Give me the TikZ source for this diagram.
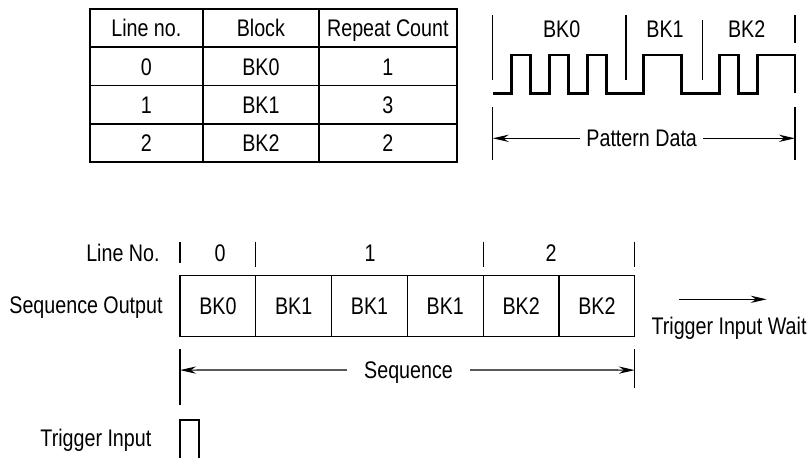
\documentclass[tikz,border=0pt]{standalone}
\usepackage{fontspec}
\setmainfont{Liberation Sans}[FakeStretch=0.82]
\usetikzlibrary{positioning,arrows.meta}

\begin{document}
\begin{tikzpicture}[x=0.5pt, y=-0.5pt,
  every node/.style={font=\fontsize{12}{14}\selectfont, inner sep=0pt},
  cell/.style={draw, line width=0.8pt, outer sep=0pt, minimum height=19.1pt, text height=8.6pt, text depth=0pt},
  blk/.style={draw, line width=0.6pt, outer sep=0pt, minimum width=37.9pt, minimum height=30.2pt, text height=8.6pt, text depth=0pt},
  lab/.style={text height=8.6pt, text depth=0pt},
  dimlab/.style={lab, inner xsep=3pt},
  tick/.style={line width=0.6pt},
  dim/.style={line width=0.6pt, -{Stealth[length=8pt, width=3.6pt]}},
  wave/.style={line width=1.4pt}]
\useasboundingbox (0,0) rectangle (810,457);
% table of lines
\foreach \ca/\cb/\cc [count=\i] in {{Line no.}/Block/{Repeat Count}, 0/BK0/1, 1/BK1/3, 2/BK2/2} {
  \node[cell, minimum width=56.35pt] (r\i a) at (146.35, {9+38.25*\i-19.1}) {\ca};
  \node[cell, minimum width=58.15pt] (r\i b) at (260.85, {9+38.25*\i-19.1}) {\cb};
  \node[cell, minimum width=68.85pt] (r\i c) at (387.85, {9+38.25*\i-19.1}) {\cc};
}
% pattern data waveform
\node[lab] (w0) at (561.7,29) {BK0};
\node[lab] (w1) at (665,29) {BK1};
\node[lab] (w2) at (746.7,29) {BK2};
\draw[tick] (492.7,15) -- (492.7,80);
\draw[tick] (626,15) -- (626,80);
\draw[tick] (702.7,20) -- (702.7,80);
\draw[tick] (795,15) -- (795,43);
\draw[wave] (492.7,93.3) -| (511.7,55) -| (530.7,93.3) -| (549.3,55) -| (568.3,93.3)
  -| (587.3,55) -| (606.7,93.3) -| (643.3,55) -| (681.7,93.3) -| (719.3,55)
  -| (738.3,93.3) -| (757.3,55) -| (795,93.3);
\draw[tick] (492.7,107) -- (492.7,160);
\draw[tick] (795,107) -- (795,160);
\node[dimlab] (pd) at (641.7,138.3) {Pattern Data};
\coordinate (pdl) at (492.7,138.3);
\coordinate (pdr) at (795,138.3);
\draw[dim] (pd.west) -- (pdl);
\draw[dim] (pd.east) -- (pdr);
% sequence output
\node[blk, anchor=west] (b1) at (180,305.9) {BK0};
\node[blk, right=0pt of b1] (b2) {BK1};
\node[blk, right=0pt of b2] (b3) {BK1};
\node[blk, right=0pt of b3] (b4) {BK1};
\node[blk, right=0pt of b4] (b5) {BK2};
\node[blk, right=0pt of b5] (b6) {BK2};
\node[lab, anchor=east] (seqout) at (163,305) {Sequence Output};
\node[lab, anchor=east] (lineno) at (160,253) {Line No.};
\node[lab] (n0) at (220,253) {0};
\node[lab] (n1) at (370,253) {1};
\node[lab] (n2) at (551,253) {2};
\draw[tick] (b1.west) ++(0,-64.2) -- ++(0,21.6);
\foreach \n in {b2.west, b5.west, b6.east}
  \draw[tick] (\n) ++(0,-64.2) -- ++(0,25);
% trigger wait
\node[lab] (tiw) at (729,326) {Trigger Input Wait};
\coordinate (tw1) at (679.3,299.3);
\coordinate (tw2) at (766.7,299.3);
\draw[dim] (tw1) -- (tw2);
% sequence length
\draw[tick] (b1.south west) ++(0,13.3) -- ++(0,55.7);
\draw[tick] (b6.south east) ++(0,13.3) -- ++(0,38.7);
\node[dimlab, inner xsep=8.5pt] (seq) at (408.5,370) {Sequence};
\coordinate (sql) at ([yshift=-17pt]b1.south west);
\coordinate (sqr) at ([yshift=-17pt]b6.south east);
\draw[dim] (seq.west) -- (sql);
\draw[dim] (seq.east) -- (sqr);
% trigger input pulse
\node[lab, anchor=east] (trig) at (151.7,438.3) {Trigger Input};
\draw[wave] (b1.west |- 0,462) -- (b1.west |- 0,420) -- (199,420) -- (199,462);
\end{tikzpicture}
\end{document}
